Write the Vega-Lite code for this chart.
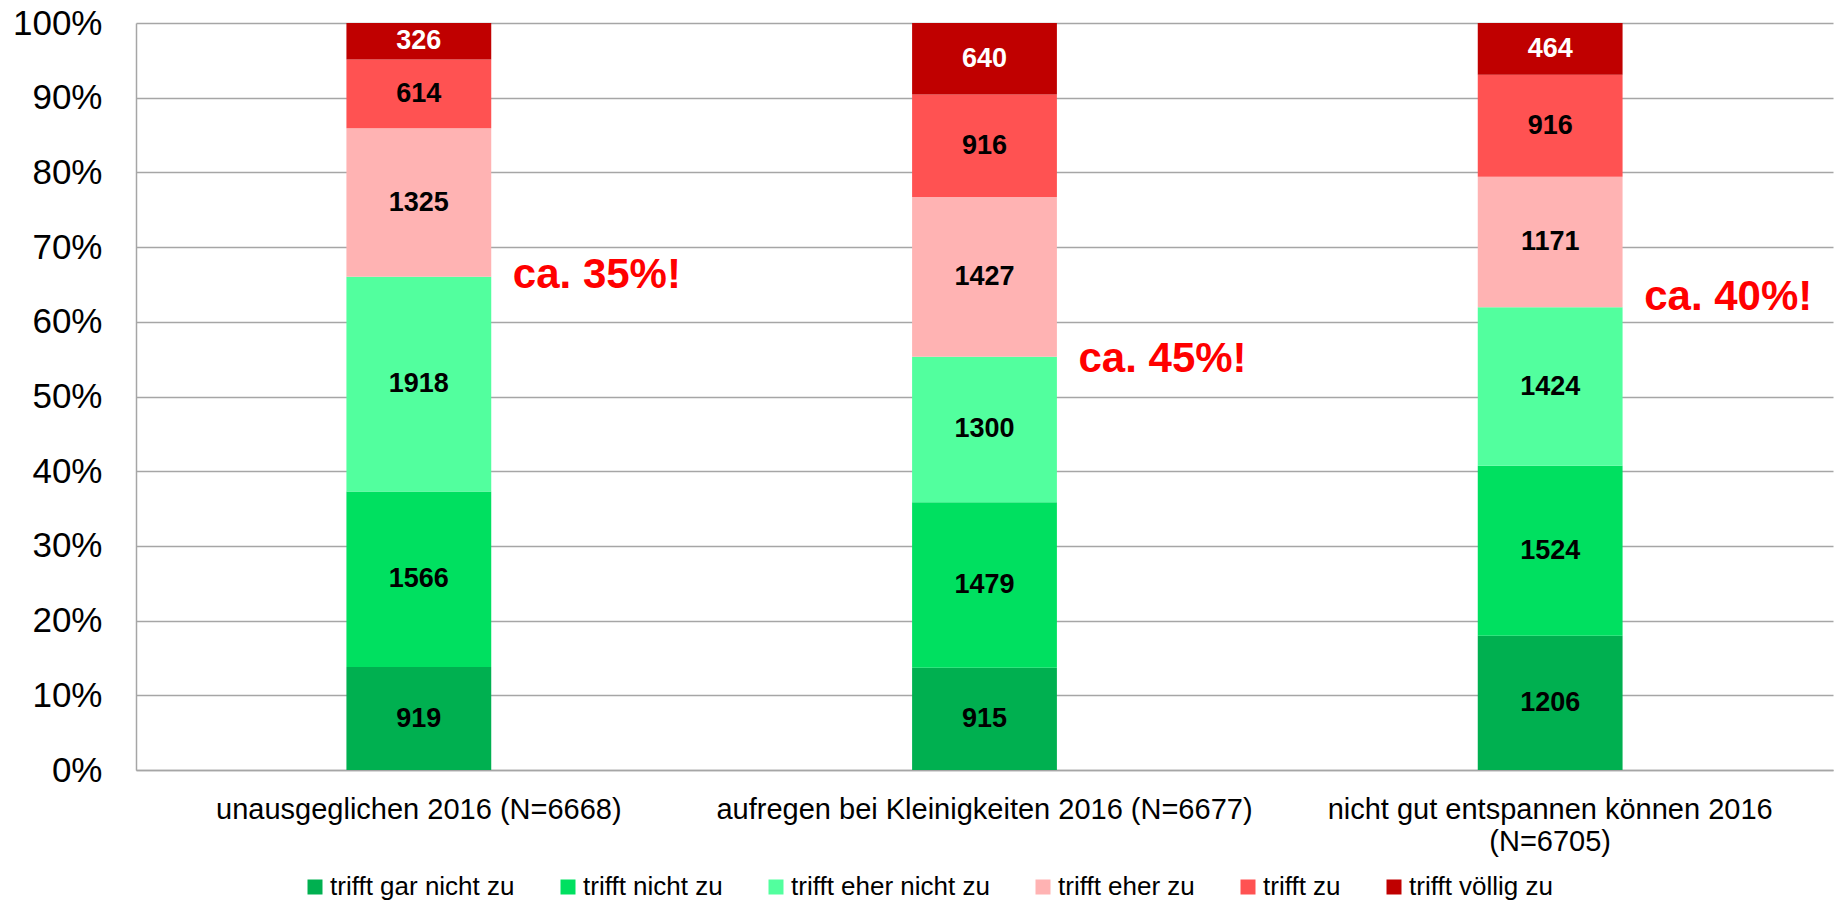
{
  "$schema": "https://vega.github.io/schema/vega-lite/v6.json",
  "width": 1697,
  "height": 747,
  "autosize": "none",
  "padding": {"left": 136, "top": 23, "right": 2, "bottom": 131},
  "background": "white",
  "config": {"font": "Liberation Sans", "view": {"stroke": null}},
  "layer": [
    {
      "data": {
        "values": [
          {"cat": "unausgeglichen 2016 (N=6668)", "resp": "trifft gar nicht zu", "ord": 1, "n": 919},
          {"cat": "unausgeglichen 2016 (N=6668)", "resp": "trifft nicht zu", "ord": 2, "n": 1566},
          {"cat": "unausgeglichen 2016 (N=6668)", "resp": "trifft eher nicht zu", "ord": 3, "n": 1918},
          {"cat": "unausgeglichen 2016 (N=6668)", "resp": "trifft eher zu", "ord": 4, "n": 1325},
          {"cat": "unausgeglichen 2016 (N=6668)", "resp": "trifft zu", "ord": 5, "n": 614},
          {"cat": "unausgeglichen 2016 (N=6668)", "resp": "trifft völlig zu", "ord": 6, "n": 326},
          {"cat": "aufregen bei Kleinigkeiten 2016 (N=6677)", "resp": "trifft gar nicht zu", "ord": 1, "n": 915},
          {"cat": "aufregen bei Kleinigkeiten 2016 (N=6677)", "resp": "trifft nicht zu", "ord": 2, "n": 1479},
          {"cat": "aufregen bei Kleinigkeiten 2016 (N=6677)", "resp": "trifft eher nicht zu", "ord": 3, "n": 1300},
          {"cat": "aufregen bei Kleinigkeiten 2016 (N=6677)", "resp": "trifft eher zu", "ord": 4, "n": 1427},
          {"cat": "aufregen bei Kleinigkeiten 2016 (N=6677)", "resp": "trifft zu", "ord": 5, "n": 916},
          {"cat": "aufregen bei Kleinigkeiten 2016 (N=6677)", "resp": "trifft völlig zu", "ord": 6, "n": 640},
          {"cat": "nicht gut entspannen können 2016 (N=6705)", "resp": "trifft gar nicht zu", "ord": 1, "n": 1206},
          {"cat": "nicht gut entspannen können 2016 (N=6705)", "resp": "trifft nicht zu", "ord": 2, "n": 1524},
          {"cat": "nicht gut entspannen können 2016 (N=6705)", "resp": "trifft eher nicht zu", "ord": 3, "n": 1424},
          {"cat": "nicht gut entspannen können 2016 (N=6705)", "resp": "trifft eher zu", "ord": 4, "n": 1171},
          {"cat": "nicht gut entspannen können 2016 (N=6705)", "resp": "trifft zu", "ord": 5, "n": 916},
          {"cat": "nicht gut entspannen können 2016 (N=6705)", "resp": "trifft völlig zu", "ord": 6, "n": 464}
        ]
      },
      "transform": [
        {"stack": "n", "groupby": ["cat"], "sort": [{"field": "ord", "order": "ascending"}], "offset": "normalize", "as": ["y0", "y1"]},
        {"calculate": "(datum.y0 + datum.y1) / 2", "as": "ymid"}
      ],
      "layer": [
        {
          "mark": {"type": "bar"},
          "encoding": {
            "x": {
              "field": "cat", "type": "nominal", "sort": null,
              "scale": {"paddingInner": 0.744, "paddingOuter": 0.372},
              "axis": {
                "title": null, "labelAngle": 0, "labelFontSize": 29, "labelColor": "black",
                "ticks": false, "domainColor": "#A6A6A6", "domainWidth": 1.5,
                "labelPadding": 25, "labelLineHeight": 32, "labelLimit": 0,
                "labelExpr": "datum.label == 'nicht gut entspannen können 2016 (N=6705)' ? ['nicht gut entspannen können 2016', '(N=6705)'] : datum.label"
              }
            },
            "y": {
              "field": "y0", "type": "quantitative",
              "scale": {"domain": [0, 1], "nice": false},
              "axis": {
                "title": null, "format": ".0%", "values": [0, 0.1, 0.2, 0.3, 0.4, 0.5, 0.6, 0.7, 0.8, 0.9, 1],
                "labelFontSize": 35, "labelColor": "black", "ticks": false, "labelPadding": 34,
                "domainColor": "#A6A6A6", "domainWidth": 1.5,
                "gridColor": "#A6A6A6", "gridWidth": 1.5
              }
            },
            "y2": {"field": "y1"},
            "color": {
              "field": "resp", "type": "nominal",
              "scale": {
                "domain": ["trifft gar nicht zu", "trifft nicht zu", "trifft eher nicht zu", "trifft eher zu", "trifft zu", "trifft völlig zu"],
                "range": ["#00B050", "#00E060", "#52FF9E", "#FFB3B3", "#FF5252", "#C00000"]
              },
              "legend": {
                "title": null, "orient": "none", "direction": "horizontal", "legendX": 166, "legendY": 851,
                "symbolType": "square", "symbolSize": 225, "symbolStrokeWidth": 0,
                "labelFontSize": 26, "labelColor": "black", "labelOffset": 2, "columnPadding": 40, "labelLimit": 0
              }
            }
          }
        },
        {
          "mark": {"type": "text", "fontSize": 27, "fontWeight": "bold", "baseline": "middle", "align": "center"},
          "encoding": {
            "x": {"field": "cat", "type": "nominal", "sort": null},
            "y": {"field": "ymid", "type": "quantitative"},
            "text": {"field": "n", "type": "nominal"},
            "color": {"condition": {"test": "datum.resp == 'trifft völlig zu'", "value": "white"}, "value": "black"}
          }
        }
      ]
    },
    {
      "data": {
        "values": [
          {"cat": "unausgeglichen 2016 (N=6668)", "note": "ca. 35%!", "pos": 0.663},
          {"cat": "aufregen bei Kleinigkeiten 2016 (N=6677)", "note": "ca. 45%!", "pos": 0.55},
          {"cat": "nicht gut entspannen können 2016 (N=6705)", "note": "ca. 40%!", "pos": 0.633}
        ]
      },
      "mark": {"type": "text", "fontSize": 42, "fontWeight": "bold", "color": "#FF0000", "align": "left", "baseline": "middle", "dx": 94},
      "encoding": {
        "x": {"field": "cat", "type": "nominal", "sort": null},
        "y": {"field": "pos", "type": "quantitative"},
        "text": {"field": "note", "type": "nominal"}
      }
    }
  ]
}
